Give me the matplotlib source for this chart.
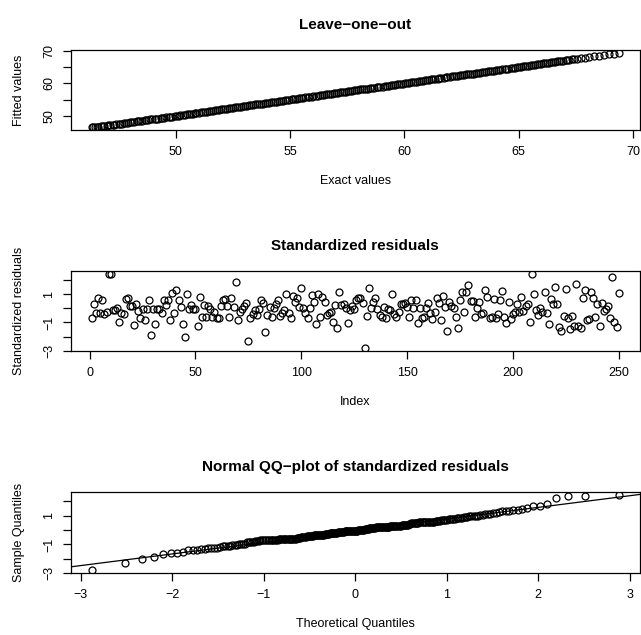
import matplotlib
matplotlib.use("Agg")
import matplotlib.pyplot as plt
import numpy as np
from statistics import NormalDist

# Leave-one-out: exact response values and the fitted values
exact_values = [
    46.32, 46.38, 46.45, 46.55, 46.61, 46.72, 46.80, 46.86, 46.97, 47.05,
    47.12, 47.23, 47.30, 47.38, 47.49, 47.55, 47.66, 47.74, 47.81, 47.90,
    48.01, 48.08, 48.17, 48.28, 48.35, 48.44, 48.52, 48.63, 48.70, 48.79,
    48.88, 48.96, 49.07, 49.15, 49.22, 49.33, 49.41, 49.50, 49.58, 49.69,
    49.76, 49.85, 49.95, 50.03, 50.12, 50.20, 50.31, 50.38, 50.47, 50.57,
    50.64, 50.75, 50.83, 50.90, 51.01, 51.09, 51.18, 51.28, 51.35, 51.44,
    51.54, 51.61, 51.70, 51.80, 51.88, 51.96, 52.07, 52.14, 52.23, 52.33,
    52.40, 52.50, 52.58, 52.67, 52.77, 52.84, 52.93, 53.03, 53.10, 53.20,
    53.28, 53.37, 53.46, 53.55, 53.64, 53.72, 53.82, 53.90, 53.98, 54.09,
    54.16, 54.25, 54.35, 54.42, 54.52, 54.61, 54.69, 54.79, 54.87, 54.95,
    55.06, 55.13, 55.22, 55.32, 55.40, 55.49, 55.58, 55.67, 55.76, 55.84,
    55.94, 56.02, 56.11, 56.20, 56.29, 56.38, 56.46, 56.56, 56.64, 56.73,
    56.82, 56.91, 57.00, 57.08, 57.18, 57.26, 57.35, 57.45, 57.53, 57.62,
    57.71, 57.80, 57.88, 57.98, 58.06, 58.15, 58.25, 58.33, 58.42, 58.51,
    58.60, 58.68, 58.78, 58.86, 58.95, 59.05, 59.13, 59.22, 59.31, 59.40,
    59.48, 59.58, 59.66, 59.75, 59.85, 59.93, 60.02, 60.11, 60.20, 60.28,
    60.38, 60.46, 60.55, 60.65, 60.73, 60.82, 60.91, 61.00, 61.08, 61.18,
    61.26, 61.35, 61.45, 61.53, 61.62, 61.71, 61.80, 61.88, 61.98, 62.06,
    62.15, 62.25, 62.33, 62.42, 62.51, 62.60, 62.68, 62.78, 62.86, 62.95,
    63.05, 63.13, 63.22, 63.31, 63.40, 63.48, 63.58, 63.66, 63.75, 63.85,
    63.93, 64.02, 64.11, 64.20, 64.28, 64.38, 64.46, 64.55, 64.65, 64.73,
    64.82, 64.91, 65.00, 65.08, 65.18, 65.26, 65.35, 65.45, 65.53, 65.62,
    65.71, 65.80, 65.88, 65.98, 66.06, 66.15, 66.25, 66.33, 66.42, 66.51,
    66.60, 66.68, 66.78, 66.86, 66.95, 67.05, 67.13, 67.22, 67.31, 67.40,
    67.55, 67.72, 67.90, 68.08, 68.30, 68.52, 68.74, 68.95, 69.16, 69.37,
]
fitted_values = [
    46.5, 46.5, 46.6, 46.6, 46.7, 46.8, 46.8, 46.9, 47.0, 47.1,
    47.1, 47.2, 47.3, 47.4, 47.5, 47.5, 47.6, 47.7, 47.8, 47.9,
    48.0, 48.1, 48.2, 48.3, 48.3, 48.4, 48.5, 48.6, 48.7, 48.8,
    48.9, 49.0, 49.1, 49.1, 49.2, 49.3, 49.4, 49.5, 49.6, 49.7,
    49.8, 49.8, 49.9, 50.0, 50.1, 50.2, 50.3, 50.4, 50.5, 50.6,
    50.6, 50.7, 50.8, 50.9, 51.0, 51.1, 51.2, 51.3, 51.3, 51.4,
    51.5, 51.6, 51.7, 51.8, 51.9, 52.0, 52.1, 52.1, 52.2, 52.3,
    52.4, 52.5, 52.6, 52.7, 52.8, 52.8, 52.9, 53.0, 53.1, 53.2,
    53.3, 53.4, 53.5, 53.6, 53.6, 53.7, 53.8, 53.9, 54.0, 54.1,
    54.2, 54.3, 54.3, 54.4, 54.5, 54.6, 54.7, 54.8, 54.9, 55.0,
    55.1, 55.1, 55.2, 55.3, 55.4, 55.5, 55.6, 55.7, 55.8, 55.8,
    55.9, 56.0, 56.1, 56.2, 56.3, 56.4, 56.5, 56.6, 56.6, 56.7,
    56.8, 56.9, 57.0, 57.1, 57.2, 57.3, 57.3, 57.4, 57.5, 57.6,
    57.7, 57.8, 57.9, 58.0, 58.1, 58.1, 58.2, 58.3, 58.4, 58.5,
    58.6, 58.7, 58.8, 58.9, 58.9, 59.0, 59.1, 59.2, 59.3, 59.4,
    59.5, 59.6, 59.7, 59.7, 59.8, 59.9, 60.0, 60.1, 60.2, 60.3,
    60.4, 60.5, 60.5, 60.6, 60.7, 60.8, 60.9, 61.0, 61.1, 61.2,
    61.3, 61.3, 61.4, 61.5, 61.6, 61.7, 61.8, 61.9, 62.0, 62.1,
    62.1, 62.2, 62.3, 62.4, 62.5, 62.6, 62.7, 62.8, 62.9, 62.9,
    63.0, 63.1, 63.2, 63.3, 63.4, 63.5, 63.6, 63.7, 63.7, 63.8,
    63.9, 64.0, 64.1, 64.2, 64.3, 64.4, 64.5, 64.5, 64.6, 64.7,
    64.8, 64.9, 65.0, 65.1, 65.2, 65.3, 65.3, 65.4, 65.5, 65.6,
    65.7, 65.8, 65.9, 66.0, 66.1, 66.1, 66.2, 66.3, 66.4, 66.5,
    66.6, 66.7, 66.8, 66.9, 66.9, 67.0, 67.1, 67.2, 67.3, 67.4,
    67.5, 67.7, 67.9, 68.1, 68.3, 68.5, 68.7, 68.9, 69.1, 69.3,
]

# Standardized LOO residuals, in index order 1..250
std_residuals = [
    -0.71, 0.28, -0.35, 0.75, -0.35, 0.59, -0.40, -0.24, 2.45, 2.40,
    -0.12, -0.12, 0.05, -0.94, -0.35, -0.42, 0.66, 0.75, 0.19, 0.19,
    -1.18, 0.28, -0.19, -0.66, -0.05, -0.83, -0.05, 0.59, -1.90, -0.05,
    -1.13, -0.05, -0.05, -0.35, 0.59, 0.24, 0.59, -0.83, 1.06, -0.35,
    1.30, 0.59, 0.12, -1.13, -2.00, 0.99, -0.05, 0.24, -0.05, -0.05,
    -1.23, 0.82, -0.59, 0.24, -0.59, 0.19, -0.05, -0.59, -0.28, -0.66,
    -0.71, 0.19, 0.59, 0.66, 0.19, -0.59, 0.71, 0.12, 1.84, -0.83,
    -0.24, -0.05, 0.19, 0.35, -2.30, -0.71, -0.42, -0.12, -0.47, -0.05,
    0.59, 0.35, -1.70, -0.47, 0.12, -0.59, 0.00, 0.28, 0.59, -0.52,
    -0.30, -0.12, 0.99, -0.35, -0.66, 0.90, 0.47, 0.71, 0.12, 1.47,
    0.00, -0.35, -0.66, 0.00, 0.94, 0.47, -1.10, 0.99, -0.59, 0.82,
    0.47, -0.47, -0.35, -0.24, -0.99, 0.24, -1.40, 1.13, 0.24, 0.28,
    0.05, -1.06, -0.12, 0.19, -0.05, 0.59, 0.71, 0.75, 0.35, -2.79,
    -0.52, 1.41, 0.05, 0.47, 0.71, -0.05, -0.47, -0.59, 0.12, -0.66,
    -0.05, -0.12, 0.99, -0.42, -0.59, -0.28, 0.28, 0.28, 0.35, 0.12,
    -0.59, 0.59, 0.00, 0.59, -1.06, 0.05, -0.66, -0.59, 0.00, 0.35,
    -0.35, -0.76, -0.28, 0.75, 0.35, -0.83, 0.90, 0.12, -1.60, 0.47,
    0.19, 0.00, -0.59, -1.37, 0.59, 1.13, -0.28, 1.13, 1.65, 0.52,
    0.52, -0.59, 0.00, 0.42, -0.42, -0.35, 1.30, 0.82, -0.66, -0.59,
    0.66, -0.66, -0.42, 0.59, 1.23, -0.59, -1.06, 0.42, -0.76, -0.42,
    -0.24, 0.28, -0.24, 0.82, -0.19, 0.19, 0.28, -1.00, 2.40, 0.99,
    -0.12, -0.47, 0.05, -0.24, 1.18, -0.35, -1.13, 0.66, 0.28, 1.53,
    0.28, -1.30, -1.60, -0.52, 1.37, -0.66, -1.50, -0.52, -1.23, 1.70,
    -1.23, -1.40, 0.75, 1.30, -0.83, -0.76, 1.18, 0.71, -0.59, 0.28,
    -1.23, 0.35, -0.19, -0.05, 0.19, -0.66, 2.21, -0.94, -1.30, 1.06,
]

plt.rcParams['font.family'] = ['Liberation Sans', 'DejaVu Sans']

W, H = 641, 635
fig = plt.figure(figsize=(W / 100, H / 100), dpi=100)


def make_axes(top_px, bottom_px, left_px=70.7, right_px=639.7):
    return fig.add_axes([left_px / W, 1 - bottom_px / H,
                         (right_px - left_px) / W, (bottom_px - top_px) / H])


def r_style(ax, title, xlabel, ylabel, xticks, yticks, ylabels):
    for side in ['top', 'right', 'left', 'bottom']:
        ax.spines[side].set_linewidth(0.9)
    ax.set_xticks(xticks)
    ax.set_yticks(yticks)
    ax.set_yticklabels(ylabels)
    ax.tick_params(direction='out', length=5.5, width=0.9, labelsize=9, pad=6)
    ax.tick_params(axis='y', labelrotation=90, pad=5.5)
    for lab in ax.get_yticklabels():
        lab.set_va('center')
    h_px = ax.get_position().height * H
    ax.set_title(title, fontsize=11, fontweight='bold', pad=15)
    ax.set_xlabel(xlabel, fontsize=9)
    ax.set_ylabel(ylabel, fontsize=9)
    ax.xaxis.set_label_coords(0.5, -45 / h_px)
    ax.yaxis.set_label_coords(-45.7 / (ax.get_position().width * W), 0.5)


circle = dict(marker='o', linestyle='none', markersize=5.0,
              markerfacecolor='none', markeredgecolor='black', markeredgewidth=0.9)

# Panel 1: leave-one-out fitted vs exact
ax1 = make_axes(50, 130.3)
ax1.plot(exact_values, fitted_values, **circle)
ax1.margins(0.04)
r_style(ax1, 'Leave\u2212one\u2212out', 'Exact values', 'Fitted values',
        [50, 55, 60, 65, 70], [50, 55, 60, 65, 70], ['50', '', '60', '', '70'])

# Panel 2: standardized residuals vs index
index = np.arange(1, len(std_residuals) + 1)
ax2 = make_axes(270.7, 350.7)
ax2.plot(index, std_residuals, **circle)
ax2.margins(0.04)
r_style(ax2, 'Standardized residuals', 'Index', 'Standardized residuals',
        [0, 50, 100, 150, 200, 250], [-3, -2, -1, 0, 1, 2],
        ['\u22123', '', '\u22121', '', '1', ''])

# Panel 3: normal QQ-plot of the residuals
n = len(std_residuals)
theo = [NormalDist().inv_cdf((i - 0.5) / n) for i in range(1, n + 1)]
sample = np.sort(std_residuals)
q1, q3 = np.quantile(std_residuals, [0.25, 0.75])
x1, x3 = NormalDist().inv_cdf(0.25), NormalDist().inv_cdf(0.75)
slope = (q3 - q1) / (x3 - x1)

ax3 = make_axes(492, 573)
ax3.plot(theo, sample, **circle)
ax3.margins(0.04)
ax3.axline((x1, q1), slope=slope, color='black', linewidth=0.9)
r_style(ax3, 'Normal QQ\u2212plot of standardized residuals', 'Theoretical Quantiles',
        'Sample Quantiles', [-3, -2, -1, 0, 1, 2, 3], [-3, -2, -1, 0, 1, 2],
        ['\u22123', '', '\u22121', '', '1', ''])

fig.savefig('out.png', dpi=100)
